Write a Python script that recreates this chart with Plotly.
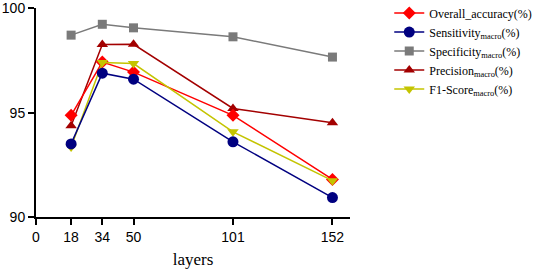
import plotly.graph_objects as go

layers = [18, 34, 50, 101, 152]
overall_accuracy = [94.87, 97.42, 96.94, 94.87, 91.80]
sensitivity = [93.50, 96.89, 96.60, 93.60, 90.93]
specificity = [98.71, 99.23, 99.06, 98.63, 97.66]
precision = [94.37, 98.26, 98.27, 95.20, 94.51]
f1_score = [93.35, 97.40, 97.35, 94.08, 91.74]

x_ticks = [0, 18, 34, 50, 101, 152]
y_ticks = [90, 95, 100]

SERIF = "Liberation Serif"
SANS = "Liberation Sans"

series = [
    # name, values, color, symbol, size, legendrank
    ("Specificity<sub>macro</sub>(%)", specificity, "#7a7a7a", "square", 9, 3),
    ("Precision<sub>macro</sub>(%)", precision, "#a30000", "triangle-up", 10, 4),
    ("Overall_accuracy(%)", overall_accuracy, "#ff0000", "diamond", 10, 1),
    ("F1-Score<sub>macro</sub>(%)", f1_score, "#c4c400", "triangle-down", 10, 5),
    ("Sensitivity<sub>macro</sub>(%)", sensitivity, "#000080", "circle", 11, 2),
]

fig = go.Figure()
for name, vals, color, sym, size, rank in series:
    fig.add_trace(go.Scatter(
        x=layers, y=vals, name=name, mode="lines+markers",
        line=dict(color=color, width=1.5),
        marker=dict(color=color, symbol=sym, size=size, line=dict(width=0)),
        legendrank=rank,
    ))

fig.update_layout(
    width=536, height=272,
    margin=dict(l=36, r=186, t=8, b=55, autoexpand=False),
    paper_bgcolor="white", plot_bgcolor="white",
    font=dict(family=SANS),
    showlegend=True,
    legend=dict(
        x=1.125, y=1.045, xanchor="left", yanchor="top",
        font=dict(family=SERIF, size=12, color="black"),
        tracegroupgap=0, itemwidth=30, bgcolor="rgba(0,0,0,0)",
    ),
    xaxis=dict(
        range=[0, 161], tickvals=x_ticks, ticktext=[str(t) for t in x_ticks],
        showgrid=False, zeroline=False, showline=True, linecolor="black", linewidth=2,
        ticks="outside", ticklen=6, tickwidth=2, tickcolor="black",
        tickfont=dict(family=SANS, size=14, color="black"),
        title=dict(text="layers", font=dict(family=SERIF, size=17, color="black"), standoff=9),
    ),
    yaxis=dict(
        range=[90, 100.01], tickvals=y_ticks,
        showgrid=False, zeroline=False, showline=True, linecolor="black", linewidth=2,
        ticks="outside", ticklen=6, tickwidth=2, tickcolor="black",
        tickfont=dict(family=SANS, size=14, color="black"),
    ),
)

fig.write_html("out.html", config={"displayModeBar": False},
               post_script="document.body.style.margin='0';document.body.style.overflow='hidden';")
